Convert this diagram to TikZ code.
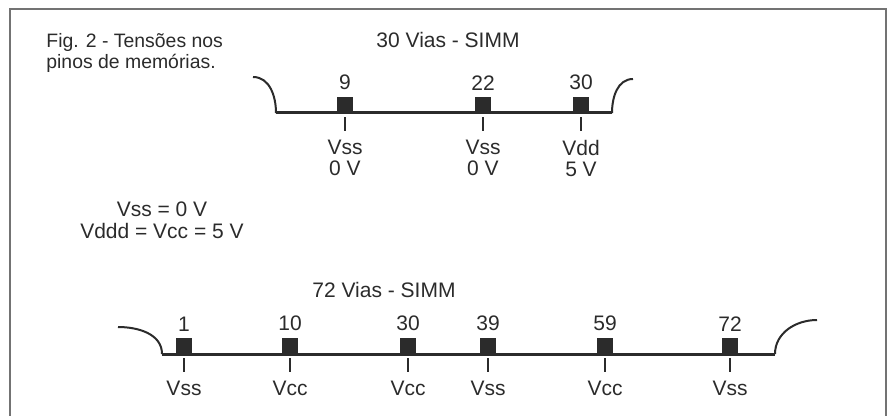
\documentclass[tikz,border=0pt]{standalone}
\usepackage{fontspec}
\setmainfont{Liberation Sans}
\usepackage{xcolor}
\usetikzlibrary{positioning}
\definecolor{ink}{HTML}{2B2B2B}

\begin{document}
\begin{tikzpicture}[
    x=0.5pt, y=-0.5pt,
    pinbox/.style={fill=ink, minimum size=8pt, inner sep=0pt},
    bus/.style={draw=ink, line width=1.5pt},
    lip/.style={draw=ink, line width=1pt},
    tickln/.style={draw=ink, line width=0.8pt},
    txt/.style={font=\fontsize{10.5}{10.5}\selectfont, text=ink, inner sep=1pt},
    frm/.style={draw=black!55, line width=1pt},
]
\useasboundingbox (0,0) rectangle (887,416);
\draw[frm] (10,416) -- (10,9) -- (886,9) -- (886,416);
% captions
\node[txt, anchor=north west, align=left, font=\fontsize{9.7}{10.5}\selectfont] (cap) at (44,31) {Fig. 2 - Tensões nos\\pinos de memórias.};
\node[txt] (t30) at (448,40) {30 Vias - SIMM};
\node[txt, align=center] (lvl) at (162,220) {Vss = 0 V\\[0.5pt]Vddd = Vcc = 5 V};
\node[txt] (t72) at (384,290) {72 Vias - SIMM};
% 30 vias
\coordinate (a30) at (253,77);
\coordinate (b30) at (276,113);
\coordinate (c30) at (612,113);
\coordinate (d30) at (633,79);
\draw[lip] (a30) to[out=0, in=90] (b30);
\draw[bus] (b30) -- (c30);
\draw[lip] (c30) to[out=90, in=180] (d30);
\node[pinbox] (p9) at (345,105) {};
\node[pinbox] (p22) at (483,105) {};
\node[pinbox] (p30) at (581,105) {};
\node[txt, above=2pt of p9] (n9) {9};
\node[txt, above=2pt of p22] (n22) {22};
\node[txt, above=2pt of p30] (n30) {30};
\node[txt, below=12pt of p9] (s9) {Vss};
\node[txt, below=12pt of p22] (s22) {Vss};
\node[txt, below=12pt of p30] (s30) {Vdd};
\node[txt, below=1pt of s9] (v9) {0 V};
\node[txt, below=1pt of s22] (v22) {0 V};
\node[txt, below=1pt of s30] (v30) {5 V};
\draw[tickln] ([yshift=-2pt]p9.south) -- ([yshift=3pt]s9.north);
\draw[tickln] ([yshift=-2pt]p22.south) -- ([yshift=3pt]s22.north);
\draw[tickln] ([yshift=-2pt]p30.south) -- ([yshift=3pt]s30.north);
% 72 vias
\coordinate (a72) at (118,327);
\coordinate (b72) at (162,354);
\coordinate (c72) at (775,354);
\coordinate (d72) at (817,320);
\draw[lip] (a72) to[out=0, in=90] (b72);
\draw[bus] (b72) -- (c72);
\draw[lip] (c72) to[out=90, in=180] (d72);
\node[pinbox] (q1) at (184,346) {};
\node[pinbox] (q10) at (290,346) {};
\node[pinbox] (q30) at (408,346) {};
\node[pinbox] (q39) at (488,346) {};
\node[pinbox] (q59) at (605,346) {};
\node[pinbox] (q72) at (730,346) {};
\node[txt, above=2pt of q1] (m1) {1};
\node[txt, above=2pt of q10] (m10) {10};
\node[txt, above=2pt of q30] (m30) {30};
\node[txt, above=2pt of q39] (m39) {39};
\node[txt, above=2pt of q59] (m59) {59};
\node[txt, above=2pt of q72] (m72) {72};
\node[txt, below=12pt of q1] (r1) {Vss};
\node[txt, below=12pt of q10] (r10) {Vcc};
\node[txt, below=12pt of q30] (r30) {Vcc};
\node[txt, below=12pt of q39] (r39) {Vss};
\node[txt, below=12pt of q59] (r59) {Vcc};
\node[txt, below=12pt of q72] (r72) {Vss};
\draw[tickln] ([yshift=-2pt]q1.south) -- ([yshift=3pt]r1.north);
\draw[tickln] ([yshift=-2pt]q10.south) -- ([yshift=3pt]r10.north);
\draw[tickln] ([yshift=-2pt]q30.south) -- ([yshift=3pt]r30.north);
\draw[tickln] ([yshift=-2pt]q39.south) -- ([yshift=3pt]r39.north);
\draw[tickln] ([yshift=-2pt]q59.south) -- ([yshift=3pt]r59.north);
\draw[tickln] ([yshift=-2pt]q72.south) -- ([yshift=3pt]r72.north);
\end{tikzpicture}
\end{document}
